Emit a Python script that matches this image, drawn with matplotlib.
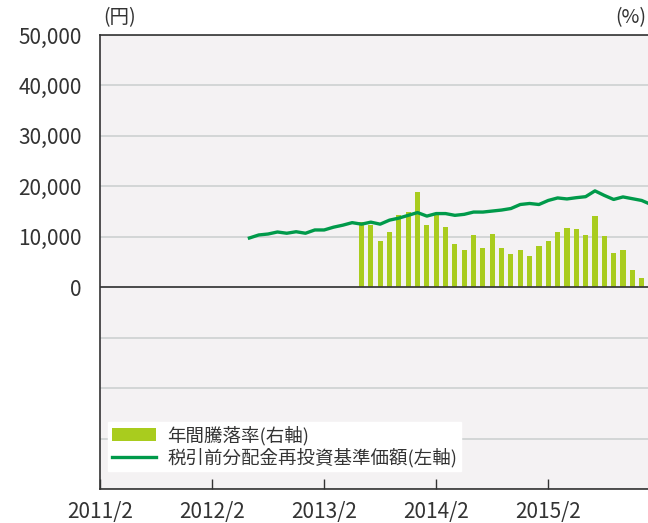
import numpy as np
import matplotlib
matplotlib.use('Agg')
import matplotlib.pyplot as plt

# フォント設定
plt.rcParams['font.family'] = ['Noto Sans CJK JP', 'DejaVu Sans']

# ========================
# データ（2011/2 からの月数で表す）
# ========================
line_start = 16   # 2012/6
nav = [9.76, 10.36, 10.55, 10.95, 10.7, 11.0, 10.7, 11.35, 11.35, 11.9, 12.3,
       12.8, 12.5, 12.9, 12.5, 13.3, 13.7, 14.25, 14.8, 14.1, 14.6, 14.6,
       14.25, 14.45, 14.9, 14.9, 15.1, 15.3, 15.6, 16.4, 16.6, 16.4, 17.2,
       17.7, 17.5, 17.75, 17.95, 19.1, 18.2, 17.4, 17.9, 17.55, 17.2, 16.4]
nav = [v * 1000 for v in nav]  # 円

bar_start = 28    # 2013/6
ret = [12.9, 12.3, 9.2, 11.0, 14.3, 14.9, 18.9, 12.3, 14.3, 11.9, 8.6, 7.4,
       10.4, 7.8, 10.6, 7.8, 6.6, 7.4, 6.2, 8.2, 9.2, 11.0, 11.8, 11.6, 10.4,
       14.2, 10.2, 6.8, 7.4, 3.4, 1.8]  # %

xtick_pos = [0, 12, 24, 36, 48]
xtick_labels = ['2011/2', '2012/2', '2013/2', '2014/2', '2015/2']
ytick_pos = [0, 10000, 20000, 30000, 40000, 50000]
ytick_labels = ['0', '10,000', '20,000', '30,000', '40,000', '50,000']

bar_color = '#a9cc1e'
line_color = '#009a4a'
dark = '#333333'

fig = plt.figure(figsize=(6.48, 5.23), dpi=100)
ax = fig.add_axes([100 / 648, 34 / 523, 551 / 648, 454 / 523])
ax2 = ax.twinx()

# 背景・グリッド・棒グラフは下の軸に描く
ax2.set_zorder(1)
ax.set_zorder(2)
ax.patch.set_visible(False)
ax2.patch.set_visible(True)
ax2.patch.set_facecolor('#f4f2f3')

ax2.set_ylim(-40, 50)
ax2.set_yticks(np.arange(-40, 51, 10))
ax2.grid(axis='y', color='#d3d6d6', linewidth=1.4)
ax2.tick_params(right=False, labelright=False)
xb = np.arange(bar_start, bar_start + len(ret))
bars = ax2.bar(xb, ret, width=0.55, color=bar_color, zorder=3,
               label='年間騰落率(右軸)')

# 基準価額の折れ線
xl = np.arange(line_start, line_start + len(nav))
line, = ax.plot(xl, nav, color=line_color, linewidth=2.4,
                label='税引前分配金再投資基準価額(左軸)', zorder=4)
ax.axhline(0, color=dark, linewidth=1.2, zorder=3)

ax.set_xlim(0, 59)
ax.set_ylim(-40000, 50000)
ax.set_yticks(ytick_pos)
ax.set_yticklabels(ytick_labels)
ax.set_xticks(xtick_pos)
ax.set_xticklabels(xtick_labels)
ax.tick_params(axis='y', length=0, pad=13, labelsize=15, labelcolor=dark)
ax.tick_params(axis='x', direction='in', length=7, width=1, color=dark,
               pad=9, labelsize=15, labelcolor=dark)

for s in ['left', 'bottom', 'top']:
    ax.spines[s].set_color(dark)
    ax.spines[s].set_linewidth(1.2)
for s in ['left', 'bottom', 'top', 'right']:
    ax2.spines[s].set_visible(False)
ax.spines['right'].set_visible(False)

# 単位
fig.text(103 / 648, 1 - 18 / 523, '(円)', fontsize=14, color=dark,
         ha='left', va='center')
fig.text(646 / 648, 1 - 18 / 523, '(%)', fontsize=14, color=dark,
         ha='right', va='center')

# 凡例
leg = ax.legend(handles=[bars, line], loc='lower left',
                bbox_to_anchor=(8 / 551, 18 / 454), fontsize=13.3,
                frameon=True, fancybox=False, framealpha=1,
                edgecolor='white', facecolor='white', handlelength=2.4,
                handletextpad=0.6, borderpad=0.2, labelspacing=0.15,
                borderaxespad=0)
for t in leg.get_texts():
    t.set_color(dark)

fig.savefig('out.png', dpi=100)
